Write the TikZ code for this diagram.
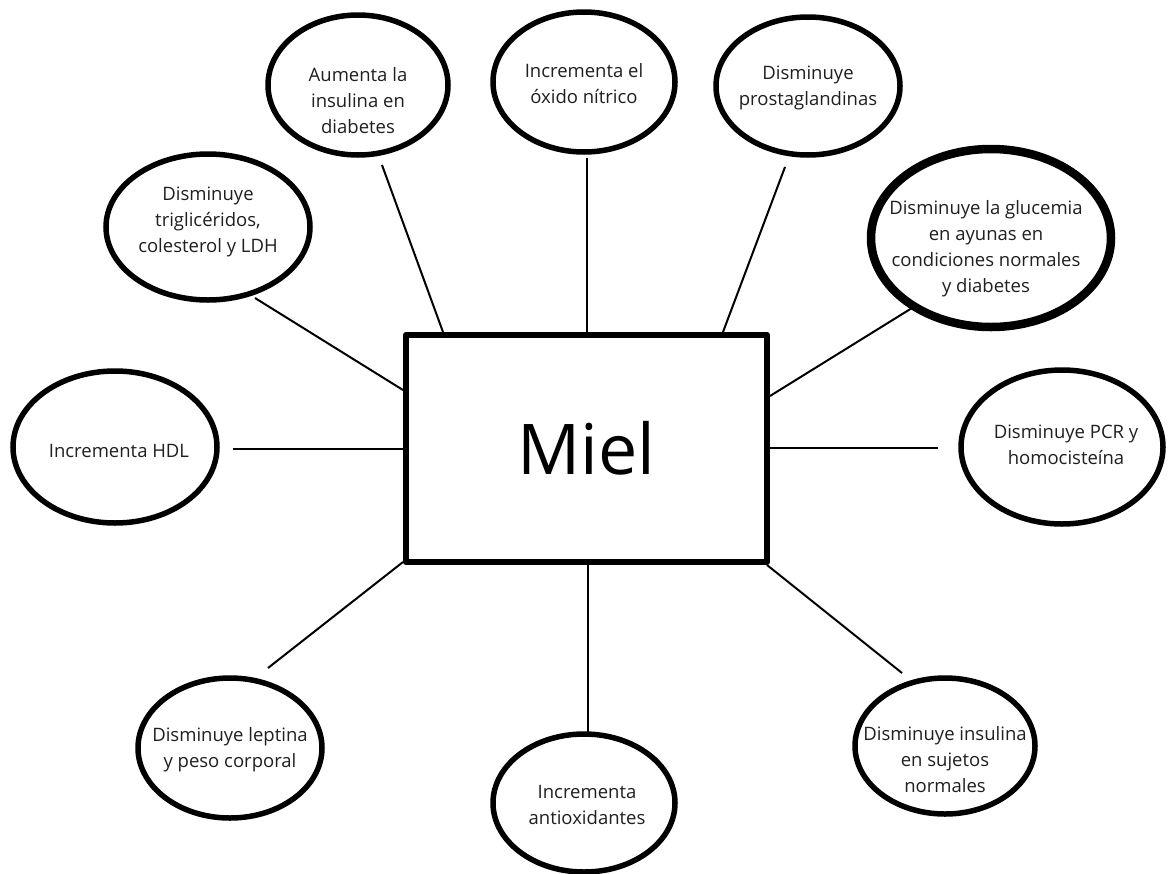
\documentclass[tikz,border=0pt]{standalone}
\usepackage{fontspec}
\setmainfont{Open Sans}
\usetikzlibrary{shapes.geometric}
\begin{document}
\begin{tikzpicture}[x=1pt,y=-1pt,
  bub/.style={draw, ellipse, line width=5.5pt, inner sep=0pt},
  txt/.style={align=center, font=\fontsize{18.5}{26}\selectfont, inner sep=0pt, text=black!88},
  conn/.style={line width=2pt}]
\useasboundingbox (0,0) rectangle (1170,873);
\fill[white] (0,0) rectangle (1170,873);

% central box
\node[draw, line width=6.5pt, line join=round, minimum width=361pt, minimum height=227pt, inner sep=0pt,
      font=\fontsize{70}{76}\selectfont] (m) at (586.5,448.5) {Miel};

% ellipses
\node[bub, minimum width=180pt, minimum height=140pt] (e1) at (358,85) {};
\node[txt] (t1) at (358,101) {Aumenta la\\insulina en\\diabetes};

\node[bub, minimum width=182pt, minimum height=140pt] (e2) at (584,82) {};
\node[txt] (t2) at (584,84) {Incrementa el\\óxido nítrico};

\node[bub, minimum width=184pt, minimum height=138pt] (e3) at (808,86) {};
\node[txt] (t3) at (808,88) {Disminuye\\prostaglandinas};

\node[bub, minimum width=204pt, minimum height=146pt] (e4) at (208,227) {};
\node[txt] (t4) at (208,222) {Disminuye\\triglicéridos,\\colesterol y LDH};

\node[bub, line width=8.5pt, minimum width=240pt, minimum height=178pt] (e5) at (991,238) {};
\node[txt] (t5) at (986,249) {Disminuye la glucemia\\en ayunas en\\condiciones normales\\y diabetes};

\node[bub, minimum width=204pt, minimum height=152pt] (e6) at (115,447) {};
\node[txt] (t6) at (119,451) {Incrementa HDL};

\node[bub, minimum width=202pt, minimum height=154pt] (e7) at (1062,447) {};
\node[txt] (t7) at (1066,445) {Disminuye PCR y\\homocisteína};

\node[bub, minimum width=184pt, minimum height=140pt] (e8) at (230,748) {};
\node[txt] (t8) at (230,750) {Disminuye leptina\\y peso corporal};

\node[bub, minimum width=182pt, minimum height=138pt] (e9) at (584,803) {};
\node[txt] (t9) at (587,805) {Incrementa\\antioxidantes};

\node[bub, minimum width=180pt, minimum height=136pt] (e10) at (945,746) {};
\node[txt] (t10) at (945,760) {Disminuye insulina\\en sujetos\\normales};

% connector end points
\coordinate (a1) at (382,165);  \coordinate (b1) at (443,332);
\coordinate (a2) at (587,158);  \coordinate (b2) at (587,332);
\coordinate (a3) at (785,167);  \coordinate (b3) at (723,332);
\coordinate (a4) at (255,298);  \coordinate (b4) at (403,390);
\coordinate (a5) at (912,308);  \coordinate (b5) at (770,396);
\coordinate (a6) at (233,449);  \coordinate (b6) at (403,449);
\coordinate (a7) at (938,448);  \coordinate (b7) at (770,448);
\coordinate (a8) at (268,668);  \coordinate (b8) at (403,562);
\coordinate (a9) at (588,733);  \coordinate (b9) at (588,565);
\coordinate (a10) at (902,673); \coordinate (b10) at (767,565);

\foreach \i in {1,...,10} { \draw[conn] (a\i) -- (b\i); }
\end{tikzpicture}
\end{document}
